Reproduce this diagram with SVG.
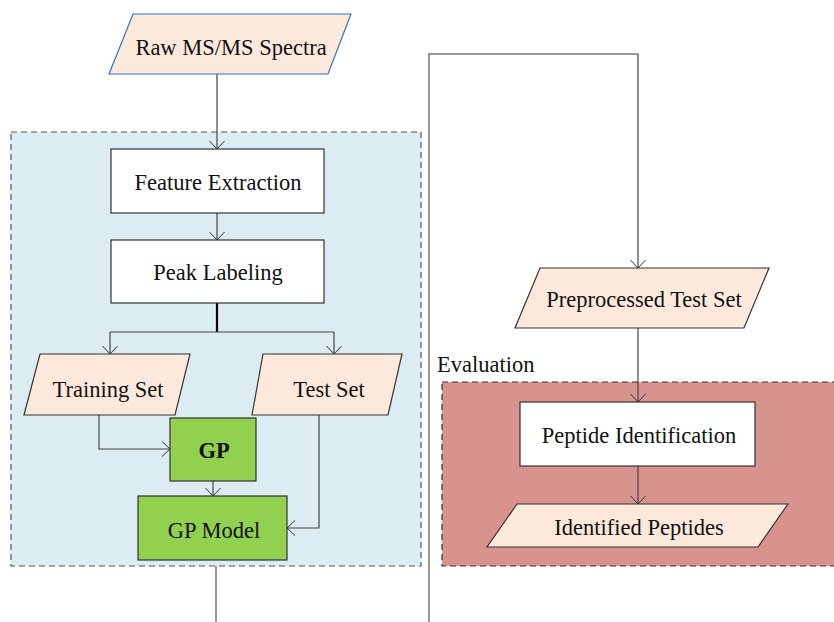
<svg xmlns="http://www.w3.org/2000/svg" width="834" height="622" viewBox="0 0 834 622">
  <defs>
    <marker id="arrow" markerWidth="12" markerHeight="18" refX="9" refY="8.5" orient="auto" markerUnits="userSpaceOnUse">
      <path d="M1,1 L9,8.5 L1,16" fill="none" stroke="#333" stroke-width="1"/>
    </marker>
    <style>
      text { font-family: "Liberation Serif", "Times New Roman", serif; font-size: 22.5px; fill: #111; text-anchor: middle; }
      .box { fill: #ffffff; stroke: #333; stroke-width: 1.2; }
      .data { fill: #fce9db; stroke: #333; stroke-width: 1.2; }
      .gp { fill: #92d050; stroke: #333; stroke-width: 1.2; }
      .link { fill: none; stroke: #444; stroke-width: 1.2; }
      .arrowed { marker-end: url(#arrow); }
    </style>
  </defs>

  <!-- background -->
  <rect x="0" y="0" width="834" height="622" fill="#ffffff"/>

  <!-- preprocessing region -->
  <g id="preprocessing-region">
    <rect x="11" y="132" width="410" height="434" fill="#dbedf3" stroke="#555" stroke-width="1.2" stroke-dasharray="6,4"/>
  </g>

  <!-- evaluation region -->
  <g id="evaluation-region">
    <rect x="442" y="382" width="400" height="184" fill="#d9938f" stroke="#333" stroke-width="1.2" stroke-dasharray="6,4"/>
    <text x="437" y="372" style="text-anchor:start">Evaluation</text>
  </g>

  <!-- connectors -->
  <g id="connectors">
    <line class="link arrowed" x1="217" y1="74" x2="217" y2="149"/>
    <line class="link arrowed" x1="217" y1="213" x2="217" y2="240"/>
    <line x1="217" y1="303" x2="217" y2="332" stroke="#000" stroke-width="2.2"/>
    <line class="link" x1="110" y1="332" x2="334" y2="332"/>
    <line class="link arrowed" x1="110" y1="332" x2="110" y2="354"/>
    <line class="link arrowed" x1="334" y1="332" x2="334" y2="354"/>
    <polyline class="link arrowed" points="99,415 99,449 170,449"/>
    <line class="link arrowed" x1="213" y1="481" x2="213" y2="496"/>
    <polyline class="link arrowed" points="319,415 319,528 287,528"/>
    <line x1="216" y1="566" x2="216" y2="622" stroke="#777" stroke-width="1.5"/>
    <polyline points="429,622 429,54 638,54" fill="none" stroke="#777" stroke-width="1.5"/>
    <line class="link arrowed" x1="638" y1="54" x2="638" y2="268"/>
    <line class="link arrowed" x1="638" y1="328" x2="638" y2="402"/>
    <line class="link arrowed" x1="638" y1="466" x2="638" y2="504"/>
  </g>

  <!-- nodes -->
  <g id="raw-spectra">
    <polygon points="133,14 351,14 328,74 109,74" fill="#fce9db" stroke="#2e75b6" stroke-width="1.2"/>
    <text x="231" y="55">Raw MS/MS Spectra</text>
  </g>

  <g id="feature-extraction">
    <rect class="box" x="111" y="149" width="213" height="64"/>
    <text x="218" y="190">Feature Extraction</text>
  </g>

  <g id="peak-labeling">
    <rect class="box" x="111" y="240" width="213" height="63"/>
    <text x="218" y="280">Peak Labeling</text>
  </g>

  <g id="training-set">
    <polygon class="data" points="40,354 190,354 175,415 24,415"/>
    <text x="108" y="397">Training Set</text>
  </g>

  <g id="test-set">
    <polygon class="data" points="263,354 402,354 388,415 252,415"/>
    <text x="329" y="397">Test Set</text>
  </g>

  <g id="gp">
    <rect class="gp" x="170" y="418" width="86" height="63"/>
    <text x="214" y="458" style="font-weight:bold">GP</text>
  </g>

  <g id="gp-model">
    <rect class="gp" x="138" y="496" width="149" height="64"/>
    <text x="214" y="538">GP Model</text>
  </g>

  <g id="preprocessed-test-set">
    <polygon class="data" points="540,268 769,268 744,328 515,328"/>
    <text x="644" y="307">Preprocessed Test Set</text>
  </g>

  <g id="peptide-identification">
    <rect class="box" x="520" y="402" width="235" height="64"/>
    <text x="639" y="443">Peptide Identification</text>
  </g>

  <g id="identified-peptides">
    <polygon class="data" points="517,504 788,504 758,547 487,547"/>
    <text x="639" y="535">Identified Peptides</text>
  </g>
</svg>
